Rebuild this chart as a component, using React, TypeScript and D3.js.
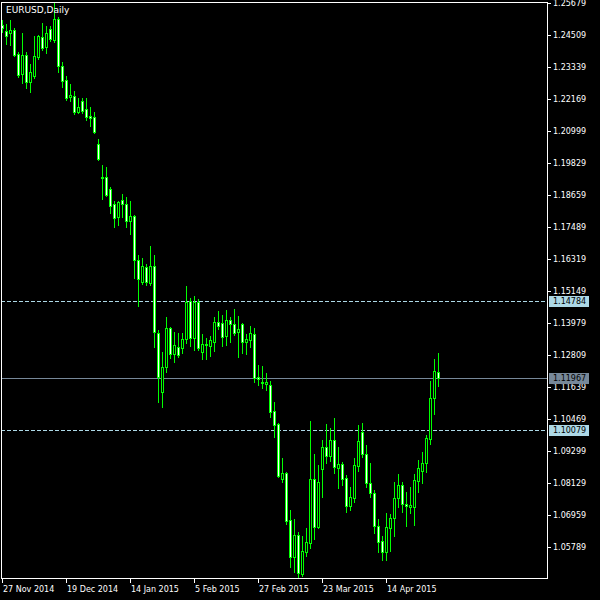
import * as d3 from 'd3'

// EURUSD daily, 27 Nov 2014 .. 1 May 2015 (110 bars)
const OPEN = [
  1.2487, 1.2466, 1.2458, 1.2469, 1.2381, 1.2308, 1.2378, 1.2279, 1.2301, 1.2371,
  1.2444, 1.2407, 1.2473, 1.2433, 1.2509, 1.2338, 1.2286, 1.2224, 1.2228, 1.2169,
  1.2210, 1.2180, 1.2155, 1.2151, 1.2052, 1.1932, 1.1932, 1.1888, 1.1833, 1.1786,
  1.1848, 1.1833, 1.1771, 1.1789, 1.1628, 1.1548, 1.1603, 1.1544, 1.1606, 1.1361,
  1.1146, 1.1237, 1.1380, 1.1285, 1.1310, 1.1307, 1.1339, 1.1478, 1.1343, 1.1475,
  1.1292, 1.1318, 1.1314, 1.1328, 1.1402, 1.1398, 1.1350, 1.1409, 1.1394, 1.1365,
  1.1394, 1.1328, 1.1336, 1.1358, 1.1200, 1.1182, 1.1175, 1.1171, 1.1076, 1.1029,
  1.0828, 1.0850, 1.0678, 1.0542, 1.0623, 1.0480, 1.0561, 1.0594, 1.0828, 1.0652,
  1.0864, 1.0945, 1.0912, 1.0970, 1.0868, 1.0882, 1.0831, 1.0729, 1.0758, 1.0875,
  1.0999, 1.0919, 1.0813, 1.0776, 1.0656, 1.0601, 1.0561, 1.0648, 1.0685, 1.0758,
  1.0806, 1.0736, 1.0725, 1.0725, 1.0820, 1.0857, 1.0886, 1.0974, 1.1124, 1.1219,
]
const HIGH = [
  1.2506, 1.2491, 1.2506, 1.2477, 1.2389, 1.2458, 1.2389, 1.2345, 1.2447, 1.2451,
  1.2495, 1.2484, 1.2484, 1.2568, 1.2517, 1.2352, 1.2301, 1.2272, 1.2246, 1.2221,
  1.2221, 1.2221, 1.2188, 1.2169, 1.2071, 1.1976, 1.1968, 1.1895, 1.1844, 1.1844,
  1.1870, 1.1859, 1.1844, 1.1793, 1.1647, 1.1636, 1.1614, 1.1679, 1.1647, 1.1372,
  1.1292, 1.1420, 1.1383, 1.1365, 1.1361, 1.1361, 1.1533, 1.1489, 1.1497, 1.1486,
  1.1358, 1.1343, 1.1350, 1.1420, 1.1442, 1.1427, 1.1445, 1.1420, 1.1449, 1.1423,
  1.1398, 1.1358, 1.1387, 1.1380, 1.1244, 1.1241, 1.1215, 1.1186, 1.1109, 1.1032,
  1.0904, 1.0853, 1.0714, 1.0681, 1.0634, 1.0619, 1.0648, 1.1040, 1.0919, 1.0879,
  1.0970, 1.1029, 1.1014, 1.1051, 1.0945, 1.0890, 1.0842, 1.0798, 1.0904, 1.1025,
  1.1032, 1.0952, 1.0886, 1.0787, 1.0681, 1.0619, 1.0703, 1.0700, 1.0817, 1.0846,
  1.0817, 1.0780, 1.0798, 1.0846, 1.0897, 1.0926, 1.0988, 1.1186, 1.1266, 1.1288,
]
const LOW = [
  1.2462, 1.2418, 1.2414, 1.2374, 1.2297, 1.2275, 1.2257, 1.2243, 1.2294, 1.2363,
  1.2396, 1.2385, 1.2429, 1.2425, 1.2316, 1.2261, 1.2213, 1.2210, 1.2162, 1.2166,
  1.2166, 1.2140, 1.2118, 1.2093, 1.1994, 1.1851, 1.1862, 1.1800, 1.1749, 1.1756,
  1.1786, 1.1749, 1.1723, 1.1562, 1.1460, 1.1541, 1.1537, 1.1537, 1.1310, 1.1109,
  1.1091, 1.1219, 1.1270, 1.1255, 1.1274, 1.1288, 1.1325, 1.1314, 1.1299, 1.1299,
  1.1266, 1.1266, 1.1277, 1.1296, 1.1376, 1.1314, 1.1318, 1.1328, 1.1354, 1.1274,
  1.1288, 1.1285, 1.1310, 1.1182, 1.1171, 1.1160, 1.1153, 1.1054, 1.0981, 1.0835,
  1.0817, 1.0663, 1.0506, 1.0488, 1.0466, 1.0473, 1.0546, 1.0575, 1.0608, 1.0648,
  1.0762, 1.0886, 1.0893, 1.0850, 1.0795, 1.0806, 1.0707, 1.0714, 1.0743, 1.0857,
  1.0908, 1.0798, 1.0762, 1.0630, 1.0561, 1.0531, 1.0531, 1.0564, 1.0619, 1.0725,
  1.0707, 1.0656, 1.0703, 1.0659, 1.0780, 1.0813, 1.0853, 1.0955, 1.1065, 1.1168,
]
const CLOSE = [
  1.2477, 1.2447, 1.2469, 1.2378, 1.2305, 1.2378, 1.2279, 1.2316, 1.2374, 1.2447,
  1.2403, 1.2458, 1.2436, 1.2509, 1.2338, 1.2283, 1.2221, 1.2232, 1.2169, 1.2188,
  1.2173, 1.2151, 1.2147, 1.2096, 1.1998, 1.1928, 1.1866, 1.1826, 1.1782, 1.1840,
  1.1833, 1.1771, 1.1789, 1.1628, 1.1559, 1.1606, 1.1548, 1.1606, 1.1365, 1.1200,
  1.1237, 1.1380, 1.1285, 1.1318, 1.1281, 1.1339, 1.1475, 1.1343, 1.1475, 1.1307,
  1.1321, 1.1321, 1.1336, 1.1402, 1.1387, 1.1347, 1.1409, 1.1394, 1.1361, 1.1376,
  1.1328, 1.1339, 1.1361, 1.1197, 1.1193, 1.1179, 1.1182, 1.1073, 1.1025, 1.0839,
  1.0850, 1.0674, 1.0542, 1.0623, 1.0484, 1.0564, 1.0597, 1.0828, 1.0652, 1.0817,
  1.0945, 1.0912, 1.0970, 1.0871, 1.0882, 1.0828, 1.0729, 1.0762, 1.0879, 1.0966,
  1.0919, 1.0813, 1.0776, 1.0656, 1.0597, 1.0561, 1.0652, 1.0685, 1.0758, 1.0806,
  1.0736, 1.0729, 1.0732, 1.0824, 1.0868, 1.0886, 1.0977, 1.1124, 1.1222, 1.11967,
]

const PRICE_TICKS = [
  1.25679, 1.24509, 1.23339, 1.22169, 1.20999, 1.19829, 1.18659, 1.17489, 1.16319,
  1.15149, 1.13979, 1.12809, 1.11639, 1.10469, 1.09299, 1.08129, 1.06959, 1.05789,
]
const DATE_LABELS = ['27 Nov 2014', '19 Dec 2014', '14 Jan 2015', '5 Feb 2015', '27 Feb 2015', '23 Mar 2015', '14 Apr 2015']
const DATE_BARS = [0, 16, 32, 48, 64, 80, 96]

// horizontal levels: two dashed marks and the bid line
const LEVELS = [
  { price: 1.14784, kind: 'dash' },
  { price: 1.10079, kind: 'dash' },
  { price: 1.11967, kind: 'bid' },
]

const W = 600
const H = 600
const PLOT = { left: 1, top: 2, right: 547, bottom: 578 }
const BAR_STEP = 4
const FIRST_BAR_X = 2

const BG = '#000000'
const FG = '#FFFFFF'
const CANDLE = '#00FF00'
const DASH_COLOR = '#ADD8E6'
const BID_COLOR = '#778899'
const FONT = "'DejaVu Sans', Tahoma, sans-serif"

export default function App() {
  const n = OPEN.length
  const x = d3
    .scaleLinear()
    .domain([0, (PLOT.right - FIRST_BAR_X) / BAR_STEP])
    .range([FIRST_BAR_X, PLOT.right])
  const y = d3
    .scaleLinear()
    .domain([PRICE_TICKS[PRICE_TICKS.length - 1], PRICE_TICKS[0]])
    .range([547, 3])

  const py = (p: number) => Math.round(y(p))
  const bars = d3.range(n).map((i) => {
    const cx = Math.round(x(i))
    const o = py(OPEN[i])
    const c = py(CLOSE[i])
    return {
      cx,
      hi: py(HIGH[i]),
      lo: py(LOW[i]),
      top: Math.min(o, c),
      bot: Math.max(o, c),
      bull: CLOSE[i] >= OPEN[i],
    }
  })

  return (
    <svg
      width={W}
      height={H}
      style={{ position: 'fixed', left: 0, top: 0, background: BG, display: 'block' }}
      shapeRendering="crispEdges"
    >
      <rect x={0} y={0} width={W} height={H} fill={BG} />

      {/* levels */}
      {LEVELS.map((l) => (
        <line
          key={l.price}
          x1={PLOT.left}
          x2={PLOT.right}
          y1={py(l.price) + 0.5}
          y2={py(l.price) + 0.5}
          stroke={l.kind === 'bid' ? BID_COLOR : DASH_COLOR}
          strokeDasharray={l.kind === 'bid' ? undefined : '4,2'}
          strokeWidth={1}
        />
      ))}

      {/* candles */}
      {bars.map((b, i) => (
        <g key={i}>
          <line x1={b.cx + 0.5} x2={b.cx + 0.5} y1={b.hi} y2={b.lo + 1} stroke={CANDLE} strokeWidth={1} />
          <path
            d={`M${b.cx - 0.5},${b.top + 0.5}H${b.cx + 1.5}V${b.bot + 0.5}H${b.cx - 0.5}Z`}
            fill={b.bull ? BG : FG}
            stroke={CANDLE}
            strokeWidth={1}
          />
        </g>
      ))}

      {/* frame */}
      <rect
        x={PLOT.left + 0.5}
        y={PLOT.top + 0.5}
        width={PLOT.right - PLOT.left}
        height={PLOT.bottom - PLOT.top}
        fill="none"
        stroke={FG}
        strokeWidth={1}
      />

      <text x={6} y={13} fill={FG} fontFamily={FONT} fontSize={9}>
        EURUSD,Daily
      </text>

      {/* price axis */}
      {PRICE_TICKS.map((p) => (
        <g key={p}>
          <line x1={PLOT.right} x2={PLOT.right + 4} y1={py(p) + 0.5} y2={py(p) + 0.5} stroke={FG} />
          <text x={553} y={py(p) + 0.5} dy="0.35em" fill={FG} fontFamily={FONT} fontSize={8}>
            {d3.format('.5f')(p)}
          </text>
        </g>
      ))}
      {LEVELS.map((l) => (
        <g key={'lab' + l.price}>
          <rect
            x={549}
            y={py(l.price) - 5}
            width={40}
            height={11}
            fill={l.kind === 'bid' ? BID_COLOR : DASH_COLOR}
          />
          <text x={553} y={py(l.price) + 0.5} dy="0.35em" fill={BG} fontFamily={FONT} fontSize={8}>
            {d3.format('.5f')(l.price)}
          </text>
        </g>
      ))}

      {/* time axis */}
      {DATE_BARS.map((bi, k) => {
        const tx = Math.round(x(bi))
        return (
          <g key={bi}>
            <line x1={tx + 0.5} x2={tx + 0.5} y1={PLOT.bottom} y2={PLOT.bottom + 5} stroke={FG} />
            <text x={tx + 1} y={592} fill={FG} fontFamily={FONT} fontSize={8}>
              {DATE_LABELS[k]}
            </text>
          </g>
        )
      })}
    </svg>
  )
}
